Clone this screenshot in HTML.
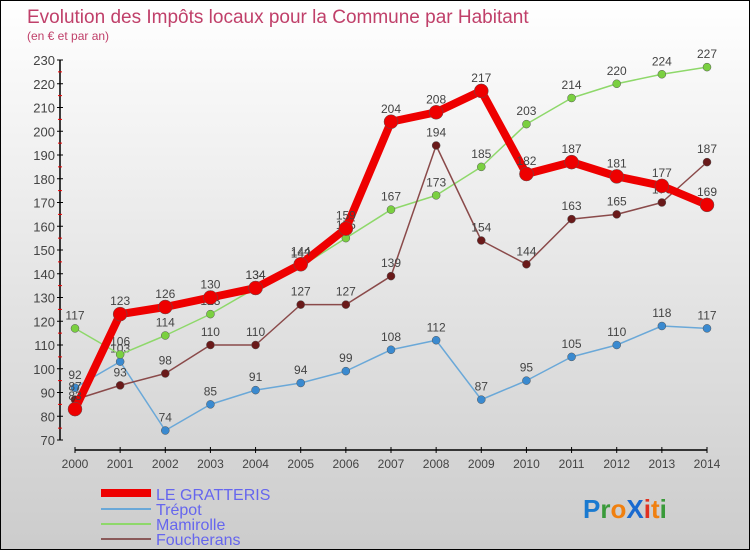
<!DOCTYPE html>
<html><head><meta charset="utf-8"><style>
body{margin:0}
#wrap{position:relative;width:748px;height:548px;border:1px solid #000;background:linear-gradient(#fff,#ccc);font-family:"Liberation Sans",sans-serif;overflow:hidden}
</style></head><body>
<div id="wrap">
<svg id="svg" width="748" height="548" xmlns="http://www.w3.org/2000/svg">
<text x="26" y="22" font-size="19" fill="#c0406a">Evolution des Impôts locaux pour la Commune par Habitant</text>
<text x="26" y="39" font-size="12" fill="#c0406a">(en € et par an)</text>
<g id="axes"></g><g id="series"></g>
<g>
<line x1="100" y1="492" x2="150" y2="492" stroke="#e00" stroke-width="8"/>
<text x="155" y="499" font-size="16" fill="#6666ee">LE GRATTERIS</text>
<line x1="100" y1="508" x2="150" y2="508" stroke="#6aa8d8" stroke-width="2"/>
<text x="155" y="514" font-size="16" fill="#6666ee">Trépot</text>
<line x1="100" y1="523" x2="150" y2="523" stroke="#8ed86a" stroke-width="2"/>
<text x="155" y="529" font-size="16" fill="#6666ee">Mamirolle</text>
<line x1="100" y1="538" x2="150" y2="538" stroke="#8a5a5a" stroke-width="2"/>
<text x="155" y="544" font-size="16" fill="#6666ee">Foucherans</text>
</g>
<text x="582" y="517" font-size="26" font-weight="bold"><tspan fill="#1a7ad0">P</tspan><tspan fill="#3a9a3a">r</tspan><tspan fill="#f08010">o</tspan><tspan fill="#1a6ad0">X</tspan><tspan fill="#e03020">i</tspan><tspan fill="#f08010">t</tspan><tspan fill="#3a9a3a">i</tspan></text>
</svg></div>
<script>
const years=[2000,2001,2002,2003,2004,2005,2006,2007,2008,2009,2010,2011,2012,2013,2014];
const gratteris=[83,123,126,130,134,144,159,204,208,217,182,187,181,177,169];
const trepot=[92,103,74,85,91,94,99,108,112,87,95,105,110,118,117];
const mamirolle=[117,106,114,123,134,143,155,167,173,185,203,214,220,224,227];
const foucherans=[87,93,98,110,110,127,127,139,194,154,144,163,165,170,187];
const yTicks=[70,80,90,100,110,120,130,140,150,160,170,180,190,200,210,220,230];
const NS="http://www.w3.org/2000/svg";
function x(i){return 74+i*(632/14);}
function y(v){return 439-(v-70)*(380/160);}
function mk(t,a,p){const e=document.createElementNS(NS,t);for(const k in a)e.setAttribute(k,a[k]);p.appendChild(e);return e;}
const ax=document.getElementById('axes');
const yl=mk('line',{x1:59,y1:y(230),x2:59,y2:y(70),stroke:'#000','stroke-width':1.5},ax);


const xl=mk('line',{x1:x(0),y1:449,x2:x(14),y2:449,stroke:'#000','stroke-width':1.5},ax);


yTicks.forEach((v,i)=>{
 mk('line',{x1:56,y1:y(v),x2:62,y2:y(v),stroke:'#000'},ax);
 if(i<yTicks.length-1)mk('line',{x1:57,y1:y(v+5),x2:61,y2:y(v+5),stroke:'#e00'},ax);
 const t=mk('text',{x:54,y:y(v)+5,'text-anchor':'end','font-size':13,fill:'#444'},ax);
 t.textContent=v;
 
 
});
years.forEach((yr,i)=>{
 mk('line',{x1:x(i),y1:446,x2:x(i),y2:452,stroke:'#000'},ax);
 const t=mk('text',{x:x(i),y:467,'text-anchor':'middle','font-size':12,fill:'#444'},ax);
 t.textContent=yr;
 
 
});
const sg=document.getElementById('series');
function draw(data,name,color,w,r,dot){
 const g=mk('g',{},sg);
 
 
 const p=mk('polyline',{points:data.map((v,i)=>x(i)+','+y(v)).join(' '),fill:'none',stroke:color,'stroke-width':w,'stroke-linejoin':'round'},g);
 
 
 data.forEach((v,i)=>{
  const c=mk('circle',{cx:x(i),cy:y(v),r:r,fill:dot,stroke:'#555','stroke-width':0.5},g);
  
  
  const t=mk('text',{x:x(i),y:y(v)-9,'text-anchor':'middle','font-size':12,fill:'#444'},g);
  t.textContent=v;
  
  
 });
}
draw(trepot,'trepot','#6aa8d8',1.5,4,'#3a8ad0');
draw(mamirolle,'mamirolle','#8ed86a',1.5,4,'#7ad040');
draw(foucherans,'foucherans','#8a4a4a',1.5,4,'#6a1a1a');
draw(gratteris,'le-gratteris','#e00',8,7,'#e00');
</script>
</body></html>
